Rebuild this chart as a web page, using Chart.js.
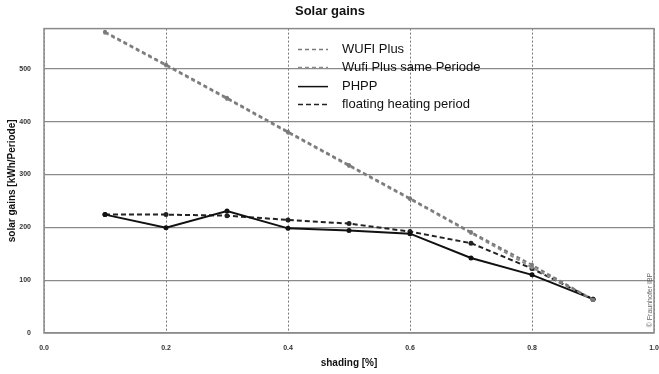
<!DOCTYPE html>
<html>
<head>
<meta charset="utf-8">
<script src="https://cdn.jsdelivr.net/npm/chart.js@4"></script>
<style>
  html, body { margin: 0; padding: 0; background: #fff; }
  #wrap { width: 659px; height: 374px; position: relative; }
</style>
</head>
<body>
<div id="wrap"><canvas id="myChart"></canvas></div>
<script>
const shading = [0.1, 0.2, 0.3, 0.4, 0.5, 0.6, 0.7, 0.8, 0.9];
const wufiPlus = [570, 508, 445, 381, 318, 255, 191, 129, 63];
const wufiSamePeriode = [568, 506, 443, 379, 316, 253, 189, 124, 63];
const phpp = [224, 199, 231, 198, 194, 188, 142, 110, 64];
const floating = [224, 224, 222, 214, 207, 192, 170, 122, 64];
const xTicks = [0.0, 0.2, 0.4, 0.6, 0.8, 1.0];
const yTicks = [0, 100, 200, 300, 400, 500];

const pts = vals => vals.map((v, i) => ({ x: shading[i], y: v }));

const ctx = document.getElementById('myChart');

Chart.defaults.font.family = "'Liberation Sans', Arial, sans-serif";
Chart.defaults.color = '#222';

// frame round the plot area + legend inside it + copyright note
const decor = {
  id: 'decor',
  afterDatasetsDraw(chart) {
    const c = chart.ctx, a = chart.chartArea;
    c.save();
    c.strokeStyle = '#8a8a8a';
    c.lineWidth = 1.5;
    c.setLineDash([]);
    c.strokeRect(a.left, a.top, a.right - a.left, a.bottom - a.top);

    // legend
    const lx0 = a.left + 254, lx1 = a.left + 284, tx = a.left + 298;
    const rows = [a.top + 21, a.top + 39, a.top + 58, a.top + 76];
    c.font = "13px 'Liberation Sans', Arial, sans-serif";
    c.textBaseline = 'middle';
    chart.data.datasets.forEach((ds, i) => {
      c.beginPath();
      c.strokeStyle = ds.borderColor;
      c.lineWidth = 1.5;
      c.setLineDash(ds.borderDash || []);
      c.moveTo(lx0, rows[i]);
      c.lineTo(lx1, rows[i]);
      c.stroke();
      c.setLineDash([]);
      c.fillStyle = '#111';
      c.fillText(ds.label, tx, rows[i]);
    });

    // copyright
    c.translate(a.right - 4, a.bottom - 33);
    c.rotate(-Math.PI / 2);
    c.font = "7px 'Liberation Sans', Arial, sans-serif";
    c.fillStyle = '#666';
    c.textAlign = 'center';
    c.fillText('© Fraunhofer IBP', 0, 0);
    c.restore();
  }
};

new Chart(ctx, {
  type: 'line',
  data: {
    datasets: [
      {
        label: 'WUFI Plus',
        data: pts(wufiPlus),
        borderColor: '#7a7a7a',
        backgroundColor: '#7a7a7a',
        borderWidth: 2,
        borderDash: [4, 3],
        pointRadius: 2,
        pointBorderWidth: 0
      },
      {
        label: 'Wufi Plus same Periode',
        data: pts(wufiSamePeriode),
        borderColor: '#8c8c8c',
        backgroundColor: '#8c8c8c',
        borderWidth: 2,
        borderDash: [4, 3],
        pointRadius: 2,
        pointBorderWidth: 0
      },
      {
        label: 'PHPP',
        data: pts(phpp),
        borderColor: '#111',
        backgroundColor: '#111',
        borderWidth: 2,
        pointRadius: 2.5,
        pointBorderWidth: 0
      },
      {
        label: 'floating heating period',
        data: pts(floating),
        borderColor: '#222',
        backgroundColor: '#222',
        borderWidth: 2,
        borderDash: [5, 3],
        pointRadius: 2.5,
        pointBorderWidth: 0
      }
    ]
  },
  options: {
    responsive: true,
    maintainAspectRatio: false,
    animation: false,
    layout: { padding: { left: 6, right: 5, top: 0, bottom: 0 } },
    scales: {
      x: {
        type: 'linear',
        min: 0,
        max: 1,
        afterBuildTicks: s => { s.ticks = xTicks.map(v => ({ value: v })); },
        afterFit: s => { s.height = 41; s.paddingLeft = 0; s.paddingRight = 0; },
        ticks: {
          padding: 11,
          maxRotation: 0,
          font: { size: 7, weight: 'bold' },
          color: '#333',
          callback: v => Number(v).toFixed(1)
        },
        grid: { color: '#777', lineWidth: 1, drawTicks: false },
        border: { display: false, dash: [2, 2] },
        title: {
          display: true,
          text: 'shading [%]',
          font: { size: 10, weight: 'bold' },
          color: '#111',
          padding: { top: 0, bottom: 5 }
        }
      },
      y: {
        min: 0,
        max: 576,
        afterBuildTicks: s => { s.ticks = yTicks.map(v => ({ value: v })); },
        afterFit: s => { s.width = 38; },
        ticks: {
          padding: 13,
          font: { size: 7, weight: 'bold' },
          color: '#333'
        },
        grid: { color: '#8a8a8a', lineWidth: 1.2, drawTicks: false },
        border: { display: false },
        title: {
          display: true,
          text: 'solar gains [kWh/Periode]',
          font: { size: 10, weight: 'bold' },
          color: '#111',
          padding: { top: 0, bottom: 0 }
        }
      }
    },
    plugins: {
      legend: { display: false },
      tooltip: { enabled: false },
      title: {
        display: true,
        text: 'Solar gains',
        font: { size: 13, weight: 'bold' },
        color: '#111',
        padding: { top: 4, bottom: 9 }
      }
    }
  },
  plugins: [decor]
});
</script>
</body>
</html>
